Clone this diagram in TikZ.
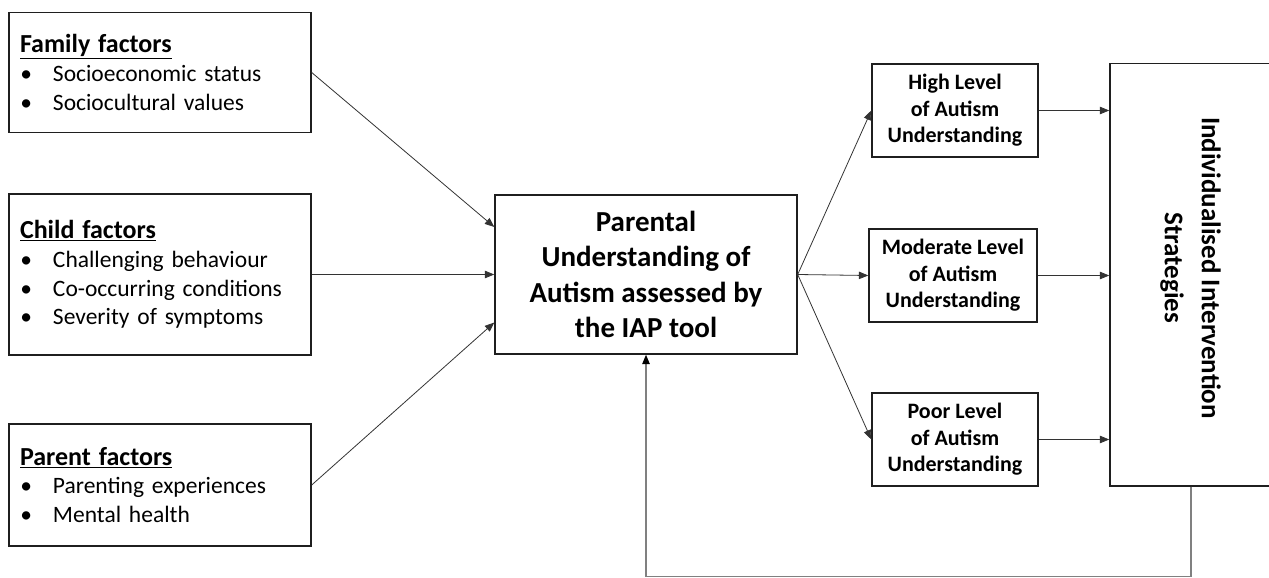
\documentclass[tikz,border=0pt]{standalone}
\usepackage{fontspec}
\setmainfont{Carlito}
\usetikzlibrary{arrows.meta}
\newcommand\bulitem{\hspace*{33pt}\llap{\textbullet\hspace{21pt}}}
\newcommand\headtxt[1]{{\fontsize{26}{30}\selectfont\underline{\textbf{#1}}}}
\begin{document}
\begin{tikzpicture}[x=1pt,y=-1pt,
  box/.style={draw=black!88, line width=1.4pt, inner sep=0pt, fill=white},
  lbox/.style={box, minimum width=302pt, text width=280pt, inner xsep=11pt, align=left,
     font=\fontsize{23.5}{28.7}\selectfont},
  sbox/.style={box, minimum height=93pt, align=center,
     font=\bfseries\fontsize{22}{26.5}\selectfont},
  arr/.style={-{Triangle[length=9.5pt,width=7.5pt]}, line width=0.8pt, draw=black!80},
  fb/.style={-{Triangle[length=9.5pt,width=7.5pt,color=black]}, line width=1.3pt, draw=black!50}]
\useasboundingbox (0,0) rectangle (1269,578);
% left boxes
\node[lbox, minimum height=120pt] (fam) at (160,72.5)
  {\headtxt{Family factors}\\ \bulitem Socioeconomic status\\ \bulitem Sociocultural values};
\node[lbox, minimum height=161pt] (child) at (160,274.5)
  {\headtxt{Child factors}\\ \bulitem Challenging behaviour\\ \bulitem Co-occurring conditions\\ \bulitem Severity of symptoms};
\node[lbox, minimum height=122pt] (par) at (160,485)
  {\headtxt{Parent factors}\\ \bulitem Parenting experiences\\ \bulitem Mental health};
% central box
\node[box, minimum width=302pt, minimum height=159pt, align=center,
  font=\bfseries\fontsize{29}{35.5}\selectfont] (cen) at (646,274.5)
  {Parental\\Understanding of\\Autism assessed by\\the IAP tool};
% level boxes
\node[sbox, minimum width=166pt] (high) at (955,110.5) {High Level\\of Autism\\Understanding};
\node[sbox, minimum width=168pt] (mod) at (953,275.5) {Moderate Level\\of Autism\\Understanding};
\node[sbox, minimum width=166pt] (poor) at (955,439.5) {Poor Level\\of Autism\\Understanding};
% right box
\node[box, minimum width=162pt, minimum height=422.5pt] (rbox) at (1191,274.75) {};
\node[rotate=-90, align=center, inner sep=0pt,
  font=\bfseries\fontsize{27}{37}\selectfont] (rt) at (1190.5,268)
  {Individualised Intervention\\Strategies};
% connectors
\draw[arr] (fam.east) -- ([yshift=47.5pt]cen.west);
\draw[arr] (child.east) -- (cen.west);
\draw[arr] (par.east) -- ([yshift=-48pt]cen.west);
\draw[arr] (cen.east) -- (high.west);
\draw[arr] (cen.east) -- (mod.west);
\draw[arr] (cen.east) -- (poor.west);
\draw[arr] (high.east) -- (high.east -| rbox.west);
\draw[arr] (mod.east) -- (mod.east -| rbox.west);
\draw[arr] (poor.east) -- (poor.east -| rbox.west);
\coordinate (fbr) at (1192,576.5);
\draw[fb] (rbox.south) -- (rbox.south |- fbr) -- (cen.south |- fbr) -- (cen.south);
\end{tikzpicture}
\end{document}
